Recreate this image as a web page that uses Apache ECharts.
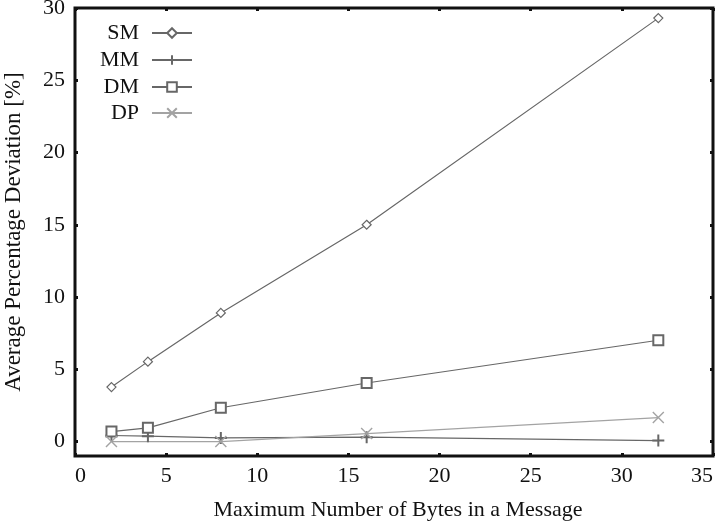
<!DOCTYPE html>
<html>
<head>
<meta charset="utf-8">
<script src="https://cdn.jsdelivr.net/npm/echarts@6/dist/echarts.min.js"></script>
<style>
  html, body { margin: 0; padding: 0; background: #fff; }
  #chart { width: 715px; height: 523px; }
</style>
</head>
<body>
<div id="chart"></div>
<script>
// Message size (bytes) on the horizontal axis
const bytesAll = [2, 4, 8, 16, 32];
const bytesDP = [2, 8, 16, 32];

// Average percentage deviation per method
const smValues = [3.77, 5.53, 8.9, 15.0, 29.3];
const mmValues = [0.42, 0.37, 0.25, 0.3, 0.07];
const dmValues = [0.69, 0.95, 2.34, 4.05, 7.01];
const dpValues = [0.0, 0.0, 0.55, 1.66];

const seriesNames = ['SM', 'MM', 'DM', 'DP'];
const xTicks = [0, 5, 10, 15, 20, 25, 30, 35];
const yTicks = [0, 5, 10, 15, 20, 25, 30];

const FONT = 'Liberation Serif';
const DARK = '#676767';
const LIGHT = '#a3a3a3';

const PLUS = 'path://M5,0L5,10M0,5L10,5';
const CROSS = 'path://M0,0L10,10M0,10L10,0';

function pairs(xs, ys) { return xs.map((x, i) => [x, ys[i]]); }

const styles = {
  SM: { symbol: 'diamond', size: 9, color: DARK, fill: '#fff', bw: 1.2 },
  MM: { symbol: PLUS, size: 12, color: DARK, fill: 'none', bw: 2 },
  DM: { symbol: 'rect', size: 10, color: DARK, fill: '#fff', bw: 2 },
  DP: { symbol: CROSS, size: 11, color: LIGHT, fill: 'none', bw: 1.4 }
};
const dataMap = {
  SM: pairs(bytesAll, smValues),
  MM: pairs(bytesAll, mmValues),
  DM: pairs(bytesAll, dmValues),
  DP: pairs(bytesDP, dpValues)
};

const chart = echarts.init(document.getElementById('chart'), null, { renderer: 'canvas' });

const series = seriesNames.map(name => {
  const s = styles[name];
  return {
    name: name,
    type: 'line',
    xAxisIndex: 0,
    yAxisIndex: 0,
    data: dataMap[name],
    symbol: s.symbol,
    symbolSize: s.size,
    showAllSymbol: true,
    lineStyle: { color: s.color, width: 1.2 },
    itemStyle: { color: s.fill, borderColor: s.color, borderWidth: s.bw },
    emphasis: { disabled: true },
    z: 3
  };
});

const legendTops = [22, 49, 76, 102];
const legends = seriesNames.map((name, i) => ({
  data: [name],
  orient: 'vertical',
  align: 'right',
  right: 522,
  top: legendTops[i],
  padding: 0,
  itemWidth: 40,
  itemHeight: 12,
  itemGap: 0,
  selectedMode: false,
  textStyle: { fontFamily: FONT, fontSize: 22, color: '#111', padding: [0, 8, 0, 0] }
}));

const tickCommon = { inside: true, length: 3, lineStyle: { color: '#111', width: 3 } };
const labelStyle = { fontFamily: FONT, fontSize: 22, color: '#111' };

chart.setOption({
  animation: false,
  backgroundColor: '#fff',
  grid: {
    left: 75, top: 8, right: 2, bottom: 67,
    containLabel: false, outerBoundsMode: 'none',
    show: true, borderColor: '#111', borderWidth: 3, backgroundColor: 'transparent'
  },
  legend: legends,
  xAxis: [
    {
      type: 'value', min: 0, max: 35, position: 'bottom',
      name: 'Maximum Number of Bytes in a Message', nameLocation: 'middle', nameGap: 43,
      nameTextStyle: Object.assign({ padding: [0, 0, 0, 8] }, labelStyle),
      axisLine: { show: false, onZero: false },
      axisTick: Object.assign({ customValues: xTicks }, tickCommon),
      splitLine: { show: false },
      axisLabel: Object.assign({ customValues: xTicks, margin: 9, alignMinLabel: 'left', alignMaxLabel: 'right' }, labelStyle)
    },
    {
      type: 'value', min: 0, max: 35, position: 'top',
      axisLine: { show: false, onZero: false },
      axisTick: Object.assign({ customValues: xTicks }, tickCommon),
      splitLine: { show: false },
      axisLabel: { show: false, customValues: xTicks }
    }
  ],
  yAxis: [
    {
      type: 'value', min: -1, max: 30, position: 'left',
      name: 'Average Percentage Deviation [%]', nameLocation: 'middle', nameGap: 50,
      nameTextStyle: Object.assign({}, labelStyle, { fontSize: 23 }),
      axisLine: { show: false, onZero: false },
      axisTick: Object.assign({ customValues: yTicks }, tickCommon),
      splitLine: { show: false },
      axisLabel: Object.assign({ customValues: yTicks, margin: 10 }, labelStyle)
    },
    {
      type: 'value', min: -1, max: 30, position: 'right',
      axisLine: { show: false, onZero: false },
      axisTick: Object.assign({ customValues: yTicks }, tickCommon),
      splitLine: { show: false },
      axisLabel: { show: false, customValues: yTicks }
    }
  ],
  series: series
});
</script>
</body>
</html>
